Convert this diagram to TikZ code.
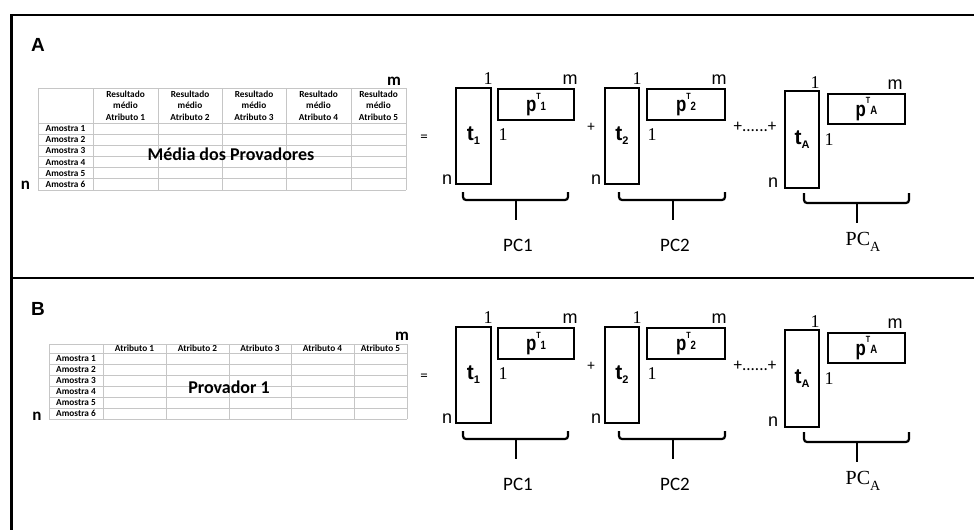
\documentclass[tikz,border=0pt]{standalone}
\usepackage{fontspec}
\setmainfont{Carlito}
\newfontfamily\arialfont{Liberation Sans}
\newfontfamily\timesfont{Liberation Serif}
\usetikzlibrary{positioning}

\newcommand{\tvec}[1]{t\raisebox{-.2em}{\fontsize{11}{11}\selectfont\bfseries #1}}
\newcommand{\pvec}[1]{\scalebox{.8}[1]{p\raisebox{.6em}{\fontsize{9}{9}\selectfont\bfseries T}\raisebox{.08em}{\fontsize{12}{12}\selectfont\bfseries #1}}}

\begin{document}
\begin{tikzpicture}[
        x=1pt, y=-1pt,
        frame/.style={line width=2.8pt},
        grid/.style={draw=gray!45, line width=0.8pt},
        head/.style={font=\fontsize{9.3}{11.3}\selectfont\bfseries, align=center, inner sep=0},
        cell/.style={font=\fontsize{9.3}{10}\selectfont\bfseries, inner sep=0},
        title/.style={font=\fontsize{18}{20}\selectfont\bfseries, inner sep=0},
        panel/.style={font=\arialfont\bfseries\fontsize{19}{19}\selectfont, inner sep=0},
        dim/.style={font=\fontsize{17}{17}\selectfont\bfseries, inner sep=0},
        mat/.style={
            draw,
            line width=1.3pt,
            inner sep=0,
            font=\arialfont\bfseries\fontsize{21}{21}\selectfont
        },
        idx/.style={font=\timesfont\fontsize{18}{18}\selectfont, inner sep=0},
        ext/.style={font=\arialfont\fontsize{18}{18}\selectfont, inner sep=0},
        op/.style={font=\fontsize{15}{15}\selectfont, inner sep=0},
        pc/.style={font=\fontsize{19}{19}\selectfont, inner sep=0},
        brace/.style={line width=2.2pt, rounded corners=3pt}
    ]
    \useasboundingbox (0,0) rectangle (974,530);

    % outer frame
    \coordinate (tl) at (11.5,15);
    \coordinate (tr) at (974,15);
    \coordinate (ml) at (11.5,278);
    \coordinate (mr) at (974,278);
    \coordinate (bl) at (11.5,530);
    \draw[frame] (tr) -- (tl) -- (bl);
    \draw[frame] (ml) -- (mr);

    % table A
    \foreach \x in {38,93,158,222,286,351,406}
        \draw[grid] (\x,88) -- (\x,190);
    \draw[grid] (38,88) -- (406,88);
    \foreach \k in {0,...,6}
        \draw[grid] (38,{123+11.17*\k}) -- (406,{123+11.17*\k});
    \foreach \x [count=\k] in {125.5,190,254,318.5,378.5}
        \node[head] (hA\k) at (\x,105.5) {Resultado\\médio\\Atributo \k};
    \foreach \k in {1,...,6}
        \node[cell] (rA\k) at (65.5,{128.6+11.17*(\k-1)}) {Amostra \k};
    \node[title] (meanA) at (231,154) {Média dos Provadores};
    \node[dim] (mA) at (394,81) {m};
    \node[dim] (nA) at (25.5,185) {n};
    \node[panel] (labA) at (38,44.7) {A};

    % table B
    \foreach \x in {49,103,166,229,291,354,407}
        \draw[grid] (\x,344) -- (\x,419);
    \draw[grid] (49,344) -- (407,344);
    \foreach \k in {0,...,6}
        \draw[grid] (49,{353.3+10.95*\k}) -- (407,{353.3+10.95*\k});
    \foreach \x [count=\k] in {134.5,197.5,260,322.5,380.5}
        \node[cell] (hB\k) at (\x,348.6) {Atributo \k};
    \foreach \k in {1,...,6}
        \node[cell] (rB\k) at (76,{358.8+10.95*(\k-1)}) {Amostra \k};
    \node[title] (provB) at (229,387.5) {Provador 1};
    \node[dim] (mB) at (402,336) {m};
    \node[dim] (nB) at (37,416) {n};
    \node[panel] (labB) at (38,309) {B};

    % decomposition, both panels
    \foreach \dy/\s in {0/a,239/b}{
    \begin{scope}[shift={(0,\dy)}]
        \node[op] (eq\s) at (424,138) {=};

        \node[mat, minimum width=35pt, minimum height=96pt] (t1\s) at (473.5,136) {\tvec{1}};
        \node[mat, minimum width=76pt, minimum height=31pt] (p1\s) at (536,104.5) {\pvec{1}};
        \node[idx] (t1top\s) at (488,79) {1};
        \node[ext] (t1n\s) at (447,180) {n};
        \node[ext] (p1m\s) at (570,80) {m};
        \node[idx] (p1one\s) at (503,135) {1};

        \node[op] (plus\s) at (591,127) {+};

        \node[mat, minimum width=34pt, minimum height=96pt] (t2\s) at (622,136) {\tvec{2}};
        \node[mat, minimum width=78pt, minimum height=31pt] (p2\s) at (686,104.5) {\pvec{2}};
        \node[idx] (t2top\s) at (637,79) {1};
        \node[ext] (t2n\s) at (596,180) {n};
        \node[ext] (p2m\s) at (719,80) {m};
        \node[idx] (p2one\s) at (652,135) {1};

        \node[op, font=\fontsize{17}{17}\selectfont] (dots\s) at (755,127) {+......+};

        \node[mat, minimum width=34pt, minimum height=97pt] (tA\s) at (802,139.5) {\tvec{A}};
        \node[mat, minimum width=77pt, minimum height=30pt] (pA\s) at (866.5,109) {\pvec{A}};
        \node[idx] (tAtop\s) at (815,83) {1};
        \node[ext] (tAn\s) at (773,183) {n};
        \node[ext] (pAm\s) at (895,85) {m};
        \node[idx] (pAone\s) at (829,140) {1};

        % braces
        \coordinate (b1l\s) at (463,192);
        \coordinate (b1r\s) at (568,192);
        \coordinate (b1m\s) at (516,200);
        \coordinate (b1e\s) at (516,220);
        \draw[brace] (b1l\s) |- (b1m\s) -| (b1r\s);
        \draw[brace] (b1m\s) -- (b1e\s);

        \coordinate (b2l\s) at (619,192);
        \coordinate (b2r\s) at (725,192);
        \coordinate (b2m\s) at (673,200);
        \coordinate (b2e\s) at (673,220);
        \draw[brace] (b2l\s) |- (b2m\s) -| (b2r\s);
        \draw[brace] (b2m\s) -- (b2e\s);

        \coordinate (b3l\s) at (804,193);
        \coordinate (b3r\s) at (909,193);
        \coordinate (b3m\s) at (857,203);
        \coordinate (b3e\s) at (857,223);
        \draw[brace] (b3l\s) |- (b3m\s) -| (b3r\s);
        \draw[brace] (b3m\s) -- (b3e\s);

        \node[pc] (pc1\s) at (518,245) {PC1};
        \node[pc] (pc2\s) at (675,245) {PC2};
        \node[pc, font=\timesfont\fontsize{20}{20}\selectfont] (pcA\s) at (863,242)
            {PC\raisebox{-.3em}{\fontsize{14}{14}\selectfont A}};
    \end{scope}
    }

\end{tikzpicture}
\end{document}
